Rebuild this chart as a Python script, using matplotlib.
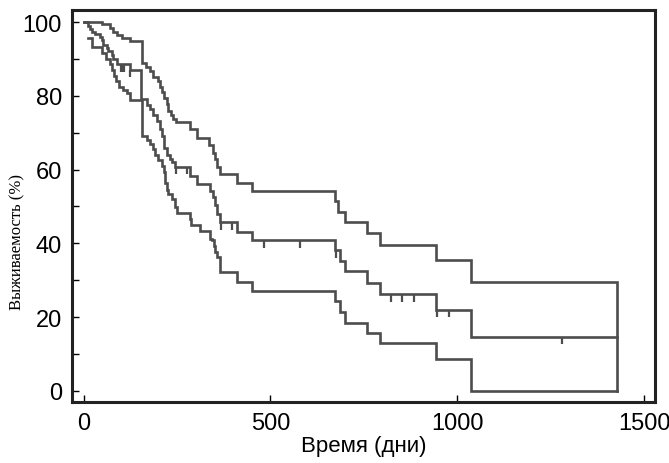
import numpy as np
import matplotlib.pyplot as plt

# Kaplan-Meier estimate with the lower and upper confidence bounds (step functions)
t_upper = [0, 50, 72, 80, 89, 102, 124, 156, 166, 178, 187, 198, 205, 211, 216, 222,
           227, 233, 240, 247, 285, 303, 337, 347, 352, 358, 365, 410, 450, 673, 682,
           700, 758, 793, 943, 1036, 1428]
s_upper = [100, 99.4, 98.3, 97.4, 96.5, 95.6, 94.9, 89.0, 87.8, 86.8, 85.0, 84.0, 82.5,
           81.0, 79.5, 77.8, 76.0, 74.7, 73.8, 72.8, 71.1, 68.6, 66.6, 64.5, 62.8, 60.8,
           58.7, 56.3, 54.1, 51.6, 48.5, 45.8, 42.8, 39.5, 35.6, 29.5, 0]

t_mid = [0, 12, 18, 22, 31, 44, 49, 53, 62, 66, 75, 80, 89, 124, 154, 169, 178, 185,
         196, 205, 209, 214, 223, 231, 236, 245, 285, 303, 338, 347, 352, 358, 365, 410,
         450, 673, 687, 700, 758, 793, 943, 1036, 1428]
s_mid = [100, 99.0, 98.0, 97.4, 96.9, 96.0, 95.1, 93.8, 93.0, 92.2, 91.0, 90.0, 88.5,
         87.0, 79.2, 77.4, 76.5, 74.7, 73.3, 71.1, 69.2, 65.8, 64.0, 62.9, 62.0, 60.7,
         58.4, 56.1, 54.3, 52.5, 50.3, 48.0, 45.7, 43.0, 40.8, 38.1, 35.2, 32.4, 29.3,
         26.2, 22.0, 14.6, 14.6]

t_lower = [13, 22, 50, 60, 70, 76, 82, 88, 95, 105, 115, 124, 156, 169, 178, 185, 192,
           200, 209, 214, 218, 223, 227, 236, 245, 249, 285, 288, 312, 338, 343, 348,
           352, 356, 365, 410, 450, 673, 687, 700, 758, 793, 943, 1036, 1428]
s_lower = [95.8, 93.2, 91.5, 90.0, 88.5, 87.0, 85.5, 84.0, 82.5, 81.5, 80.8, 79.0, 69.2,
           68.0, 67.0, 65.5, 64.0, 62.5, 61.0, 59.3, 56.5, 54.5, 53.5, 52.1, 49.8, 48.2,
           46.5, 45.0, 43.3, 41.2, 40.8, 39.4, 37.6, 36.3, 32.2, 29.6, 27.2, 24.5, 21.4,
           18.4, 15.8, 13.0, 8.7, 0, 0]

# censored observations on the estimate
t_cens = [99, 104, 109, 124, 247, 276, 367, 397, 483, 578, 675, 823, 851, 883, 945,
          979, 1281]

line_col = '#4d4d4d'


def main():
    plt.rcParams['font.family'] = ['Liberation Sans', 'DejaVu Sans']
    fig = plt.figure(figsize=(6.69, 4.64), dpi=100)
    ax = fig.add_axes([0.107, 0.1315, 0.872, 0.845])

    for t, s in [(t_upper, s_upper), (t_mid, s_mid), (t_lower, s_lower)]:
        ax.step(t, s, where='post', color=line_col, lw=1.9, solid_joinstyle='miter')

    # censor marks hang below the estimate
    idx = np.searchsorted(t_mid, t_cens, side='right') - 1
    s_cens = np.array(s_mid)[idx]
    ax.vlines(t_cens, s_cens - 2.0, s_cens, color=line_col, lw=1.6)

    ax.set_xlim(-32, 1529)
    ax.set_ylim(-3, 103.3)
    ax.set_xticks([0, 500, 1000, 1500])
    ax.set_yticks(np.arange(0, 101, 20))
    ax.set_yticks(np.arange(10, 100, 20), minor=True)

    ax.tick_params(axis='both', which='both', direction='in', length=5, width=1,
                   labelsize=17, top=False, right=False)
    ax.tick_params(axis='x', pad=7)
    ax.tick_params(axis='y', pad=7)
    for sp in ax.spines.values():
        sp.set_linewidth(2.2)
        sp.set_color('#222222')

    ax.set_xlabel('Время (дни)', fontsize=16, labelpad=1)
    ax.set_ylabel('Выживаемость (%)', fontsize=12, family='Liberation Serif')
    ax.yaxis.set_label_coords(-0.08, 0.41)

    fig.savefig('out.png', dpi=100)


if __name__ == '__main__':
    main()
